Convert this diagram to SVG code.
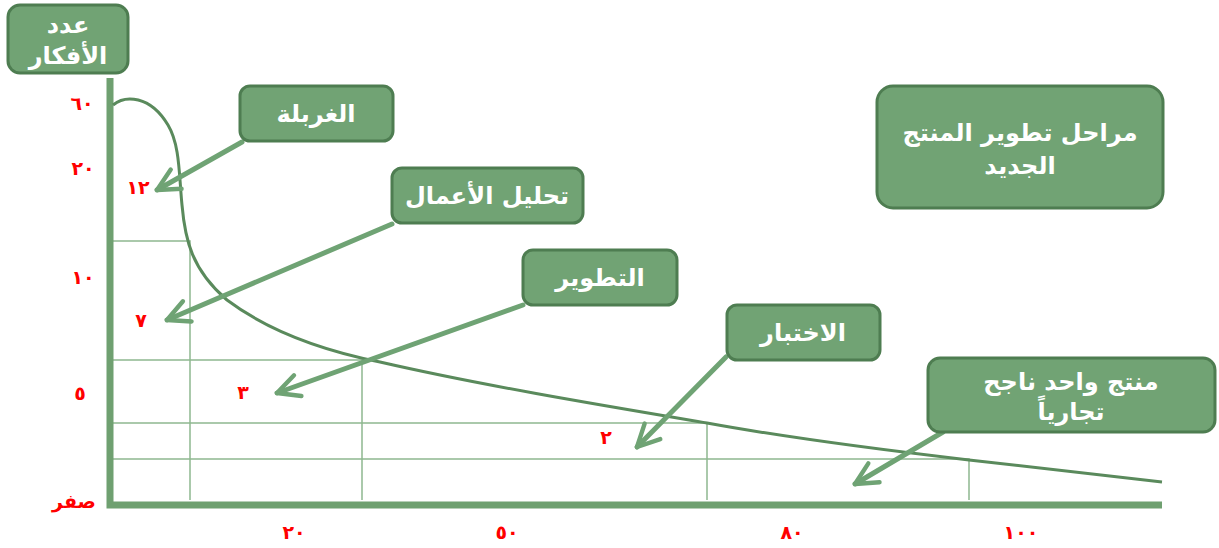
<svg xmlns="http://www.w3.org/2000/svg" width="1219" height="548" viewBox="0 0 1219 548">
<style>
.box{fill:#71a374;stroke:#4e7d51;stroke-width:3}
.bt{fill:#fff;font-family:"DejaVu Sans",sans-serif;font-weight:bold;font-size:24px;text-anchor:middle;direction:rtl}
.num{fill:#ff0000;font-family:"DejaVu Sans",sans-serif;font-weight:bold;font-size:19px;text-anchor:middle}
.grid{stroke:#8fb890;stroke-width:1.5;fill:none}
.axis{stroke:#6fa070;stroke-width:7;fill:none}
.arr{stroke:#6fa374;stroke-width:5;fill:none;stroke-linecap:round;marker-end:url(#ah)}
</style>
<defs>
<marker id="ah" viewBox="0 0 10 10" refX="9" refY="5" markerWidth="5.5" markerHeight="5.5" orient="auto" markerUnits="strokeWidth">
<path d="M1,1 L9,5 L1,9" fill="none" stroke="#6fa374" stroke-width="1.6" stroke-linecap="round" stroke-linejoin="round"/>
</marker>
</defs>
<rect width="1219" height="548" fill="#fff"/>
<g id="grid">
<path class="grid" d="M113,241H190V500M113,360H362V500M113,423H707V500M113,459H969V500"/>
</g>
<g id="axes">
<path class="axis" d="M110,78V505H1162"/>
</g>
<g id="curve">
<path d="M113,105 C125,95 150,95 168,125 C180,145 179,175 182,205 C185,240 192,270 227,300 C267,330 320,350 380,362 C480,385 600,405 707,423 C800,440 900,452 969,460 C1050,469 1110,476 1162,482" fill="none" stroke="#5a8a5c" stroke-width="3"/>
</g>
<g id="labels">
<text class="num" x="82" y="110">٦٠</text>
<text class="num" x="83" y="175">٢٠</text>
<text class="num" x="83" y="284">١٠</text>
<text class="num" x="80" y="400">٥</text>
<text class="num" x="74" y="508" font-size="21">صفر</text>
<text class="num" x="138" y="194">١٢</text>
<text class="num" x="141" y="327">٧</text>
<text class="num" x="243" y="399">٣</text>
<text class="num" x="606" y="444">٢</text>
<text class="num" x="294" y="539">٢٠</text>
<text class="num" x="507" y="539">٥٠</text>
<text class="num" x="792" y="539">٨٠</text>
<text class="num" x="1021" y="539">١٠٠</text>
</g>
<g id="connectors">
<line class="arr" x1="242" y1="142" x2="157" y2="190"/>
<line class="arr" x1="392" y1="224" x2="167" y2="320"/>
<line class="arr" x1="523" y1="305" x2="277" y2="393"/>
<line class="arr" x1="726" y1="357" x2="637" y2="447"/>
<line class="arr" x1="943" y1="432" x2="855" y2="484"/>
</g>
<g id="node-ideas">
<rect class="box" x="8" y="5" width="120" height="68" rx="12"/>
<text class="bt" x="68" y="33" font-size="23">عدد</text>
<text class="bt" x="68" y="64" font-size="23">الأفكار</text>
</g>
<g id="node-screening">
<rect class="box" x="240" y="86" width="153" height="55" rx="10"/>
<text class="bt" x="316" y="122">الغربلة</text>
</g>
<g id="node-business">
<rect class="box" x="392" y="168" width="191" height="55" rx="10"/>
<text class="bt" x="487" y="204">تحليل الأعمال</text>
</g>
<g id="node-development">
<rect class="box" x="523" y="250" width="154" height="55" rx="10"/>
<text class="bt" x="600" y="286">التطوير</text>
</g>
<g id="node-testing">
<rect class="box" x="727" y="305" width="153" height="55" rx="10"/>
<text class="bt" x="803" y="341">الاختبار</text>
</g>
<g id="node-title">
<rect class="box" x="877" y="86" width="286" height="122" rx="16"/>
<text class="bt" x="1020" y="141" font-size="26">مراحل تطوير المنتج</text>
<text class="bt" x="1020" y="174" font-size="26">الجديد</text>
</g>
<g id="node-success">
<rect class="box" x="928" y="358" width="287" height="74" rx="12"/>
<text class="bt" x="1071" y="390">منتج واحد ناجح</text>
<text class="bt" x="1071" y="420">تجارياً</text>
</g>
</svg>
